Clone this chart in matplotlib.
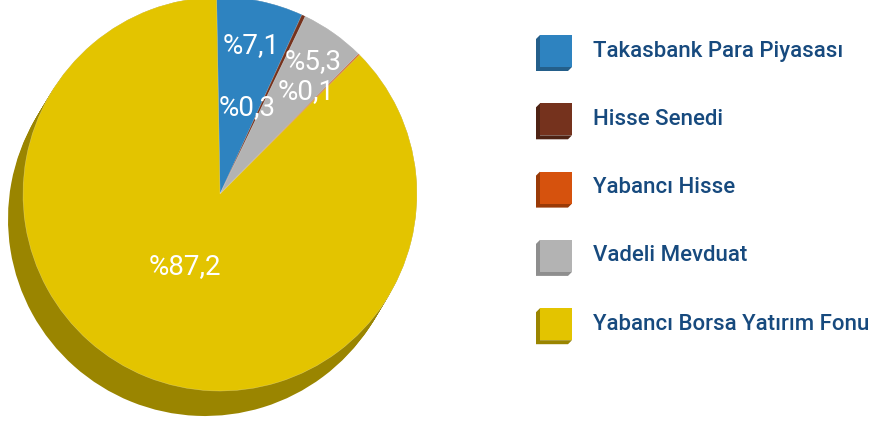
import numpy as np
import matplotlib.pyplot as plt
from matplotlib.patches import Polygon

# portfolio breakdown, in pie order (clockwise from top)
names = ["Takasbank Para Piyasası", "Hisse Senedi", "Vadeli Mevduat",
         "Yabancı Hisse", "Yabancı Borsa Yatırım Fonu"]
shares = [7.1, 0.3, 5.3, 0.1, 87.2]
colors = ["#2e83c0", "#75321d", "#b3b3b3", "#d6520d", "#e3c400"]
dark = ["#245f8a", "#4f2314", "#8e8e8e", "#9a3a07", "#9a8500"]

# legend order
legend_order = [0, 1, 3, 2, 4]

# label placement: radius fraction and angle nudge (deg)
lab_r = [0.77, 0.46, 0.82, 0.68, 0.41]
lab_da = [0, 8, 0, 5, -4]

plt.rcParams['font.family'] = ['Roboto', 'DejaVu Sans']

fig = plt.figure(figsize=(8.7, 4.23), dpi=100)
ax = fig.add_axes([0, 0, 1, 1])
ax.set_xlim(0, 870)
ax.set_ylim(0, 423)
ax.set_aspect('equal')
ax.axis('off')

cx, cy, R = 220, 229, 197
start = 91

# extruded side of the pie
for t in np.linspace(1, 0, 14):
    ax.pie(shares, colors=dark, startangle=start, counterclock=False,
           center=(cx - 15 * t, cy - 25 * t), radius=R,
           wedgeprops=dict(linewidth=0))

# top face
ax.pie(shares, colors=colors, startangle=start, counterclock=False,
       center=(cx, cy), radius=R,
       wedgeprops=dict(linewidth=0.4, edgecolor='#ffffff55'))

ax.set_xlim(0, 870)
ax.set_ylim(0, 423)

# value labels
total = sum(shares)
a0 = start
for i, v in enumerate(shares):
    span = v / total * 360
    mid = np.deg2rad(a0 - span / 2 + lab_da[i])
    a0 -= span
    r = lab_r[i] * R
    txt = "%" + f"{v:.1f}".replace(".", ",")
    ax.text(cx + r * np.cos(mid), cy + r * np.sin(mid), txt,
            ha='center', va='center', color='white', fontsize=20)

# legend with small cubes
lx, ly0, step, s, d = 540, 356, 68.3, 32, 4
for k, i in enumerate(legend_order):
    y = ly0 - k * step
    side = Polygon([(lx, y + s), (lx - d, y + s - d), (lx - d, y - d),
                    (lx + s - d, y - d), (lx + s, y), (lx, y)],
                   closed=True, facecolor=dark[i], edgecolor='none')
    ax.add_patch(side)
    ax.add_patch(Polygon([(lx, y), (lx + s, y), (lx + s, y + s), (lx, y + s)],
                         closed=True, facecolor=colors[i], edgecolor='none'))
    ax.text(593, y + s / 2, names[i], ha='left', va='center',
            color='#174a7e', fontsize=16, fontweight='medium')

fig.savefig("out.png", dpi=100)
